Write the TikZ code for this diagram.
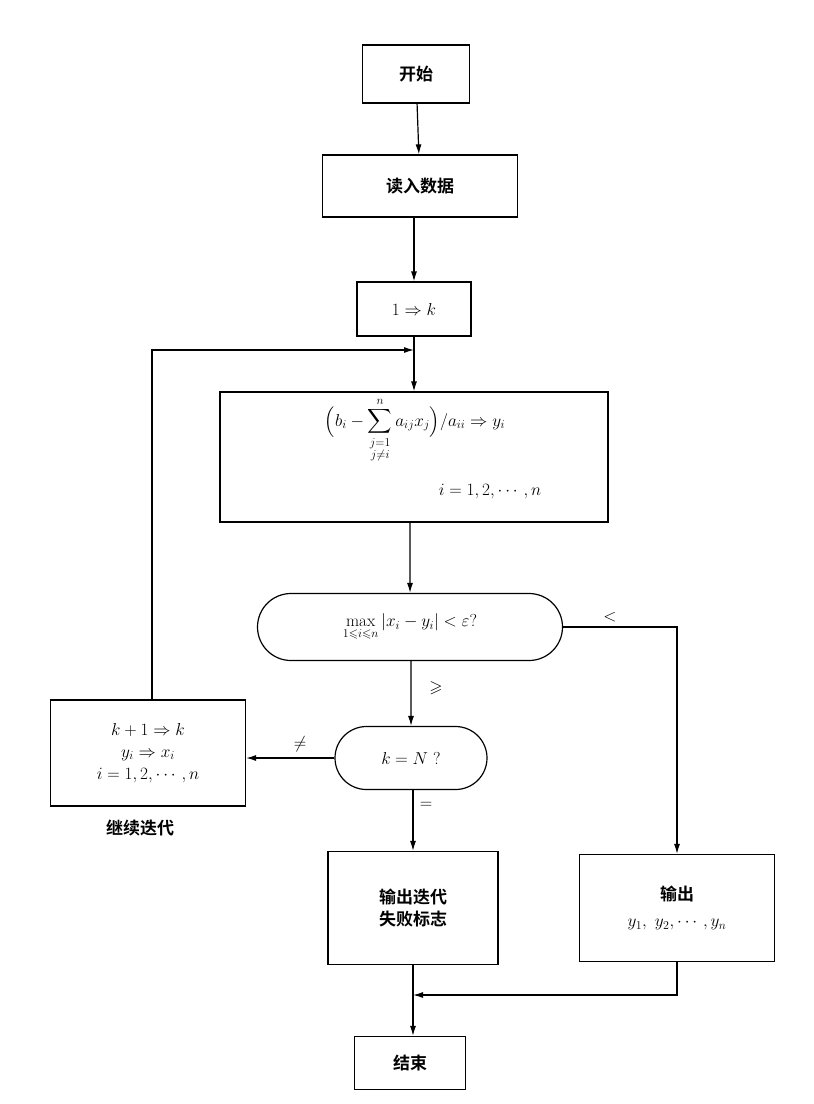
\documentclass[tikz,border=0pt]{standalone}
\usepackage{fontspec}
\usepackage{amsmath,amssymb}
\newfontfamily\cjk{Noto Sans CJK SC}[BoldFont={Noto Sans CJK SC Bold}]
\usetikzlibrary{arrows.meta,shapes.misc}
\begin{document}
\begin{tikzpicture}[x=1pt,y=-1pt,
  box/.style={draw,line width=1.2pt,rectangle,inner sep=0pt,font=\cjk\bfseries\fontsize{17}{22}\selectfont,align=center},
  arr/.style={line width=1.2pt,-{Latex[length=10pt,width=6pt]}},
  ln/.style={line width=1.2pt}]
\useasboundingbox[fill=white] (0,0) rectangle (814,1104);
\node[box,minimum width=107pt,minimum height=58pt] (start) at (416,74) {开始};
\node[box,minimum width=195pt,minimum height=62pt] (read) at (420,186) {读入数据};
\node[box,minimum width=114pt,minimum height=54pt,font=\fontsize{17}{20}\selectfont] (k1) at (414,309) {$1\Rightarrow k$};
\node[box,minimum width=388pt,minimum height=130pt,font=\fontsize{17}{20}\selectfont] (calc) at (414,457) {};
\node[font=\fontsize{17}{20}\selectfont] at (415,430) {$\displaystyle \Bigl(b_i-\sum_{\substack{j=1\\ j\neq i}}^{n} a_{ij}x_j\Bigr)/a_{ii}\Rightarrow y_i$};
\node[font=\fontsize{17}{20}\selectfont] at (490,492) {$i=1,2,\cdots,n$};
\node[box,rounded rectangle,minimum width=305pt,minimum height=67pt,font=\fontsize{17}{20}\selectfont] (dec) at (410,627) {$\displaystyle\max_{1\leqslant i\leqslant n}|x_i-y_i|<\varepsilon?$};
\node[box,rounded rectangle,minimum width=152pt,minimum height=63pt,font=\fontsize{17}{20}\selectfont] (kN) at (411,758) {$k=N\ ?$};
\node[box,minimum width=195pt,minimum height=106pt,font=\fontsize{17}{20}\selectfont] (upd) at (148,753) {$k+1\Rightarrow k$\\[2pt]$y_i\Rightarrow x_i$\\[2pt]$i=1,2,\cdots,n$};
\node[font=\cjk\bfseries\fontsize{17}{22}\selectfont] (cont) at (140,828) {继续迭代};
\node[box,minimum width=170pt,minimum height=113pt] (fail) at (413,908) {输出迭代\\失败标志};
\node[box,minimum width=195pt,minimum height=107pt] (out) at (677,908) {输出\\[4pt]{\normalfont\fontsize{17}{20}\selectfont$y_1,\ y_2,\cdots,y_n$}};
\node[box,minimum width=111pt,minimum height=53pt] (end) at (410,1063) {结束};
\coordinate (j1) at (414,350);
\coordinate (j2) at (413,995);
\draw[arr] (start) -- (read);
\draw[arr] (read.south -| k1) -- (k1);
\draw[arr] (k1) -- (calc);
\draw[arr] (upd.north -| 152,0) -- (152,350) -- (j1);
\draw[arr] (calc.south -| dec) -- (dec);
\draw[arr] (dec.east) -- (out.north |- dec.east) -- (out.north) node[pos=0,left=0pt,above=-2pt,font=\fontsize{17}{20}\selectfont] {};
\node[font=\fontsize{17}{20}\selectfont] at (610,617) {$<$};
\draw[arr] (dec.south -| kN) -- (kN) ;
\node[font=\fontsize{17}{20}\selectfont] at (436,688) {$\geqslant$};
\draw[arr] (kN.west) -- (upd.east |- kN.west);
\node[font=\fontsize{17}{20}\selectfont] at (300,744) {$\neq$};
\draw[arr] (kN.south -| fail) -- (fail);
\node[font=\fontsize{17}{20}\selectfont] at (426,805) {$=$};
\draw[arr] (fail) -- (end.north -| fail);
\draw[arr] (out.south) -- (out.south |- j2) -- (j2);
\end{tikzpicture}
\end{document}
